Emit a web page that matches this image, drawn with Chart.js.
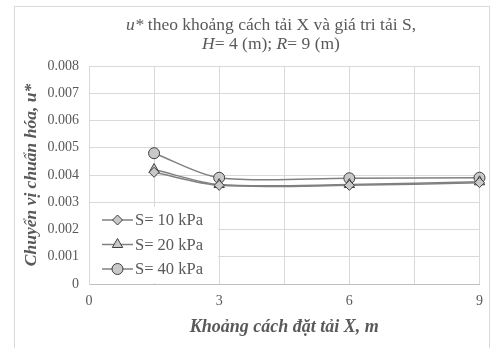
<!DOCTYPE html>
<html>
<head>
<meta charset="utf-8">
<script src="https://cdn.jsdelivr.net/npm/chart.js@4/dist/chart.umd.min.js"></script>
<style>
  html, body { margin: 0; padding: 0; background: #fff; }
  #wrap { width: 492px; height: 348px; }
</style>
</head>
<body>
<div id="wrap"><canvas id="chart" width="492" height="348"></canvas></div>
<script>
// data
const xValues = [1.5, 3, 6, 9];
const s10 = [0.0041, 0.00362, 0.00362, 0.00372];
const s20 = [0.0042, 0.00365, 0.00365, 0.00375];
const s40 = [0.0048, 0.0039, 0.00388, 0.0039];
const seriesNames = ['S= 10 kPa', 'S= 20 kPa', 'S= 40 kPa'];
const xTicks = [0, 3, 6, 9];

const serif = "'Liberation Serif', 'Times New Roman', serif";
const textGray = '#595959';
const lineGray = '#808080';
const markFill = '#c8c8c8';
const markEdge = '#404040';

function series(label, values, style, radius) {
  return {
    label: label,
    data: xValues.map((x, i) => ({ x: x, y: values[i] })),
    borderColor: lineGray,
    borderWidth: 1.5,
    tension: 0.3,
    clip: false,
    pointStyle: style,
    pointRadius: radius,
    pointBackgroundColor: markFill,
    pointBorderColor: markEdge,
    pointBorderWidth: 1
  };
}

// outer frame + title with italic parts
const framePlugin = {
  id: 'frame',
  beforeDraw(chart) {
    const ctx = chart.ctx;
    ctx.save();
    ctx.strokeStyle = '#d9d9d9';
    ctx.lineWidth = 1;
    ctx.strokeRect(14.5, 6.5, 475, 400);
    ctx.restore();
  },
  afterDraw(chart) {
    const ctx = chart.ctx;
    const lines = [
      { y: 25, parts: [['u*', true], [' theo khoảng cách tải X và giá tri tải S,', false]] },
      { y: 44, parts: [['H', true], ['= 4 (m); ', false], ['R', true], ['= 9 (m)', false]] }
    ];
    ctx.save();
    ctx.fillStyle = textGray;
    ctx.textBaseline = 'middle';
    ctx.textAlign = 'left';
    lines.forEach(line => {
      let total = 0;
      line.parts.forEach(p => {
        ctx.font = (p[1] ? 'italic ' : '') + '17.5px ' + serif;
        total += ctx.measureText(p[0]).width;
      });
      let x = 271 - total / 2;
      line.parts.forEach(p => {
        ctx.font = (p[1] ? 'italic ' : '') + '17.5px ' + serif;
        ctx.fillText(p[0], x, line.y);
        x += ctx.measureText(p[0]).width;
      });
    });
    ctx.restore();
  }
};

// legend box inside the plot, lower left
const legendPlugin = {
  id: 'innerLegend',
  afterDatasetsDraw(chart) {
    const ctx = chart.ctx;
    const area = chart.chartArea;
    ctx.save();
    ctx.fillStyle = '#fff';
    ctx.fillRect(area.left + 1, 207, 128, area.bottom - 207 - 1);
    chart.data.datasets.forEach((ds, i) => {
      const y = 220 + i * 24.5;
      ctx.strokeStyle = lineGray;
      ctx.lineWidth = 1.5;
      ctx.beginPath();
      ctx.moveTo(102, y);
      ctx.lineTo(133, y);
      ctx.stroke();
      ctx.fillStyle = markFill;
      ctx.strokeStyle = markEdge;
      ctx.lineWidth = 1;
      Chart.helpers.drawPoint(ctx, { pointStyle: ds.pointStyle, radius: ds.pointRadius, rotation: 0, borderWidth: 1 }, 117.5, y);
      ctx.fillStyle = textGray;
      ctx.font = '16.5px ' + serif;
      ctx.textBaseline = 'middle';
      ctx.textAlign = 'left';
      ctx.fillText(ds.label, 135, y + 1);
    });
    ctx.restore();
  }
};

new Chart(document.getElementById('chart'), {
  type: 'line',
  data: {
    datasets: [
      series(seriesNames[0], s10, 'rectRot', 5),
      series(seriesNames[1], s20, 'triangle', 6),
      series(seriesNames[2], s40, 'circle', 5.5)
    ]
  },
  options: {
    responsive: false,
    animation: false,
    devicePixelRatio: 1,
    layout: { padding: { top: 66, right: 11, left: 0, bottom: 0 } },
    plugins: {
      legend: { display: false },
      tooltip: { enabled: false }
    },
    scales: {
      x: {
        type: 'linear',
        min: 0,
        max: 9,
        afterBuildTicks: s => { s.ticks = [0, 1.5, 3, 4.5, 6, 7.5, 9].map(v => ({ value: v })); },
        ticks: {
          padding: 9,
          font: { family: serif, size: 14 },
          color: textGray,
          maxRotation: 0,
          autoSkip: false,
          callback: v => xTicks.includes(v) ? String(v) : ''
        },
        grid: { color: '#d9d9d9', drawTicks: false },
        border: { color: '#bfbfbf' },
        title: {
          display: true,
          text: 'Khoảng cách đặt tải X, m',
          color: textGray,
          font: { family: serif, size: 18, style: 'italic', weight: 'bold' },
          padding: { top: 6, bottom: 10 }
        },
        afterFit: s => { s.height = 348 - 284; }
      },
      y: {
        min: 0,
        max: 0.008,
        ticks: {
          stepSize: 0.001,
          padding: 10,
          font: { family: serif, size: 14 },
          color: textGray,
          callback: v => v === 0 ? '0' : v.toFixed(3)
        },
        grid: { color: '#d9d9d9', drawTicks: false },
        border: { color: '#d9d9d9' },
        title: {
          display: true,
          text: 'Chuyển vị chuẩn hóa, u*',
          color: textGray,
          font: { family: serif, size: 17.5, style: 'italic', weight: 'bold' },
          padding: { top: 21, bottom: 0 }
        },
        afterFit: s => { s.width = 89; }
      }
    }
  },
  plugins: [framePlugin, legendPlugin]
});
</script>
</body>
</html>
